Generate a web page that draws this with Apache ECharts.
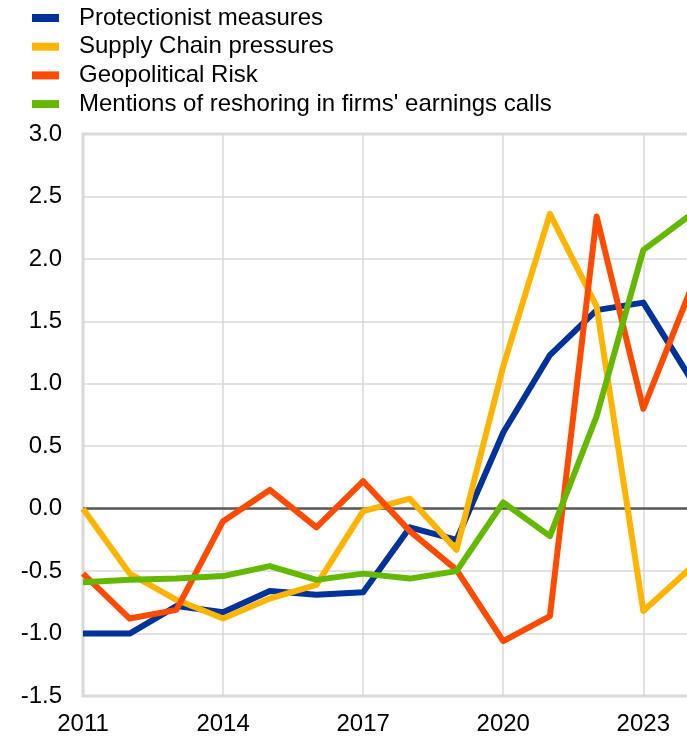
<!DOCTYPE html>
<html>
<head>
<meta charset="utf-8">
<script src="https://cdn.jsdelivr.net/npm/echarts@6/dist/echarts.min.js"></script>
<style>
  html, body { margin: 0; padding: 0; background: #fff; }
  #main { width: 687px; height: 736px; }
</style>
</head>
<body>
<div id="main"></div>
<script>
var years = ['2011','2012','2013','2014','2015','2016','2017','2018','2019','2020','2021','2022','2023','2024'];

var protectionist = [-1.0, -1.0, -0.78, -0.83, -0.66, -0.69, -0.67, -0.15, -0.25, 0.61, 1.23, 1.59, 1.65, 1.05];
var supplyChain   = [0.0, -0.52, -0.73, -0.88, -0.72, -0.61, -0.02, 0.08, -0.33, 1.14, 2.36, 1.62, -0.82, -0.48];
var geopolitical  = [-0.52, -0.88, -0.81, -0.10, 0.15, -0.15, 0.22, -0.18, -0.49, -1.06, -0.86, 2.34, 0.80, 1.74];
var reshoring     = [-0.59, -0.57, -0.56, -0.54, -0.46, -0.57, -0.52, -0.56, -0.50, 0.05, -0.22, 0.74, 2.07, 2.35];

var seriesNames = ['Protectionist measures', 'Supply Chain pressures', 'Geopolitical Risk', "Mentions of reshoring in firms' earnings calls"];
var seriesColors = ['#003299', '#FFB400', '#FF4B00', '#65B800'];

var font = 'Liberation Sans, Arial, sans-serif';

function makeLine(i, data) {
    return {
        name: seriesNames[i],
        type: 'line',
        data: data,
        symbol: 'none',
        lineStyle: { width: 6, color: seriesColors[i], join: 'round' },
        itemStyle: { color: seriesColors[i] },
        z: 3 + i
    };
}

var series = [
    makeLine(0, protectionist),
    makeLine(1, supplyChain),
    makeLine(2, geopolitical),
    makeLine(3, reshoring)
];
// zero line
series[0].markLine = {
    silent: true,
    symbol: 'none',
    z: 2,
    label: { show: false },
    lineStyle: { color: '#595959', width: 2.5, type: 'solid' },
    data: [{ yAxis: 0 }]
};

var myChart = echarts.init(document.getElementById('main'), null, { renderer: 'canvas' });
myChart.setOption({
    animation: false,
    textStyle: { fontFamily: font },
    legend: {
        orient: 'vertical',
        left: 32,
        top: 6,
        padding: 0,
        itemWidth: 27,
        itemHeight: 8,
        itemGap: 4.7,
        icon: 'rect',
        textStyle: { fontSize: 24, color: '#000', fontFamily: font, padding: [0, 0, 0, 15] },
        data: seriesNames
    },
    grid: {
        left: 83,
        width: 607,
        top: 134,
        bottom: 40,
        outerBoundsMode: 'none',
        containLabel: false,
        show: true,
        borderColor: '#d9d9d9',
        borderWidth: 3
    },
    xAxis: {
        type: 'category',
        data: years,
        boundaryGap: false,
        axisLine: { show: false },
        axisTick: { show: false },
        axisLabel: { interval: 2, fontSize: 24, color: '#000', margin: 16, fontFamily: font },
        splitLine: { show: true, interval: 2, lineStyle: { color: '#d9d9d9', width: 1.5 } }
    },
    yAxis: {
        type: 'value',
        min: -1.5,
        max: 3,
        interval: 0.5,
        axisLine: { show: false },
        axisTick: { show: false },
        axisLabel: {
            fontSize: 24, color: '#000', margin: 21, fontFamily: font,
            formatter: function (v) { return v.toFixed(1); }
        },
        splitLine: { lineStyle: { color: '#d9d9d9', width: 1.5 } }
    },
    series: series
});
</script>
</body>
</html>
